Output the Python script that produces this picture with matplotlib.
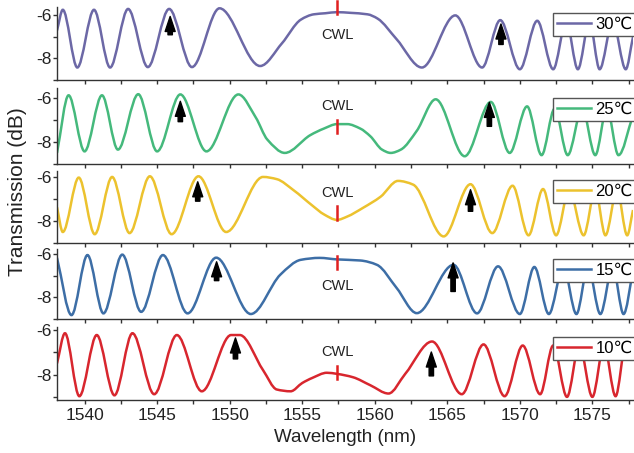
import numpy as np
import matplotlib.pyplot as plt
from matplotlib.path import Path
from matplotlib.patches import PathPatch
from matplotlib.lines import Line2D
from matplotlib.ticker import MultipleLocator

plt.rcParams['font.family'] = ['Liberation Sans', 'DejaVu Sans']

# spectra: turning points and a few shoulder points (nm, dB)
wl_30 = [1538.1, 1538.5, 1539.5, 1540.65, 1541.76, 1543.0, 1544.36, 1545.83, 1547.4,
         1549.3, 1552.1, 1553.6, 1554.9, 1555.8, 1556.6, 1557.4, 1558.3, 1559.5,
         1560.2, 1561.5, 1563.25, 1565.55, 1567.4, 1568.65, 1570.0, 1571.2, 1572.3,
         1573.2, 1574.0, 1574.8, 1575.5, 1576.4, 1577.3, 1577.8]
db_30 = [-6.7, -5.74, -8.42, -5.74, -8.42, -5.7, -8.4, -5.7, -8.4,
         -5.67, -8.35, -7.3, -6.2, -5.95, -5.9, -5.85, -5.88, -5.95,
         -6.15, -7.1, -8.42, -6.0, -8.42, -6.22, -8.5, -6.25, -8.5,
         -6.3, -8.5, -6.3, -8.5, -6.3, -8.5, -7.0]

wl_25 = [1538.1, 1538.9, 1540.0, 1541.2, 1542.3, 1543.7, 1545.0, 1546.6, 1548.4,
         1550.6, 1551.8, 1552.6, 1553.8, 1555.55, 1556.5, 1557.4, 1558.1, 1559.0,
         1559.7, 1560.5, 1561.1, 1561.8, 1562.9, 1564.2, 1566.2, 1568.0, 1569.3,
         1570.5, 1571.5, 1572.4, 1573.3, 1574.3, 1575.2, 1576.0, 1576.8, 1577.8]
db_25 = [-8.5, -5.9, -8.43, -5.9, -8.35, -5.85, -8.43, -5.86, -8.43,
         -5.86, -6.9, -7.9, -8.5, -7.7, -7.4, -7.2, -7.2, -7.4,
         -7.75, -8.35, -8.5, -8.35, -7.5, -6.08, -8.65, -6.2, -8.5,
         -6.4, -8.6, -6.5, -8.6, -6.5, -8.6, -6.5, -8.6, -6.8]

wl_20 = [1538.1, 1538.5, 1539.6, 1540.7, 1541.9, 1543.1, 1544.5, 1546.0, 1547.85,
         1549.76, 1552.3, 1553.25, 1554.4, 1555.7, 1556.5, 1557.4, 1558.1, 1559.2,
         1560.4, 1561.6, 1562.65, 1564.75, 1566.6, 1568.1, 1569.5, 1570.6, 1571.6,
         1572.5, 1573.4, 1574.4, 1575.2, 1575.9, 1576.7, 1577.4, 1577.8]
db_20 = [-7.38, -8.5, -6.03, -8.6, -6.0, -8.55, -5.97, -8.6, -5.97,
         -8.5, -6.0, -6.1, -6.6, -7.3, -7.7, -7.95, -7.8, -7.4,
         -6.9, -6.18, -6.35, -8.7, -6.33, -8.55, -6.4, -8.65, -6.55,
         -8.65, -6.6, -8.65, -6.6, -8.65, -6.6, -8.65, -7.5]

wl_15 = [1538.1, 1539.1, 1540.2, 1541.3, 1542.6, 1543.9, 1545.4, 1547.1, 1549.07,
         1551.46, 1553.5, 1554.9, 1556.2, 1557.4, 1559.0, 1560.15, 1561.5, 1562.9,
         1565.43, 1567.05, 1568.5, 1570.0, 1571.0, 1572.0, 1573.0, 1573.9, 1574.7,
         1575.55, 1576.4, 1577.15, 1577.8]
db_15 = [-6.18, -8.82, -6.05, -8.74, -6.03, -8.67, -6.05, -8.74, -6.17,
         -8.77, -6.95, -6.27, -6.18, -6.25, -6.3, -6.5, -7.56, -8.73,
         -6.5, -8.74, -6.57, -8.77, -6.6, -8.77, -6.6, -8.77, -6.6,
         -8.77, -6.6, -8.77, -6.8]

wl_10 = [1538.1, 1538.65, 1539.64, 1540.84, 1542.06, 1543.3, 1544.8, 1546.36, 1548.08,
         1550.1, 1550.7, 1552.3, 1553.25, 1554.2, 1555.0, 1555.7, 1556.7, 1557.4,
         1558.5, 1559.7, 1560.95, 1562.1, 1563.95, 1566.0, 1567.5, 1568.95, 1570.2,
         1571.4, 1572.3, 1573.25, 1574.1, 1575.0, 1575.8, 1576.6, 1577.3, 1577.8]
db_10 = [-7.5, -6.15, -8.97, -6.23, -8.93, -6.15, -8.88, -6.23, -8.75,
         -6.23, -6.23, -7.8, -8.67, -8.75, -8.38, -8.15, -7.92, -7.97,
         -8.12, -8.48, -8.85, -7.97, -6.52, -8.88, -6.65, -8.97, -6.7,
         -8.88, -6.7, -9.0, -6.7, -9.0, -6.7, -8.97, -6.7, -7.2]

labels = ['30℃', '25℃', '20℃', '15℃', '10℃']
colors = ['#6c68a6', '#45b97c', '#ecc22e', '#3d6ea6', '#d8262e']
wls = [wl_30, wl_25, wl_20, wl_15, wl_10]
dbs = [db_30, db_25, db_20, db_15, db_10]

# CWL marker: centre of red tick (dB) and label height (dB)
cwl = 1557.4
cwl_tick = [-5.65, -7.3, -7.64, -6.39, -7.9]
cwl_text = [-6.9, -6.4, -6.71, -7.5, -6.99]

# black arrows: wavelength, tip and base (dB)
arrow_wl = [(1545.9, 1568.7), (1546.6, 1567.9), (1547.8, 1566.6), (1549.1, 1565.4), (1550.4, 1563.9)]
arrow_tip = [(-6.05, -6.4), (-6.17, -6.22), (-6.22, -6.58), (-6.36, -6.41), (-6.36, -6.99)]
arrow_base = [(-6.9, -7.35), (-7.09, -7.3), (-7.1, -7.56), (-7.23, -7.73), (-7.3, -8.06)]

# panel layout in pixels and y ranges
W, H = 634, 453
tops = [7, 88, 171, 249, 327]
bottoms = [80, 164, 243, 319, 400]
ylims = [(-8.78, -5.61), (-8.87, -5.57), (-8.93, -5.73), (-8.95, -5.77), (-9.14, -5.87)]
legend_top = [13, 98, 180, 259, 337]


def smooth_path(x, y):
    x = np.asarray(x, float)
    y = np.asarray(y, float)
    n = len(x)
    m = np.zeros(n)
    for i in range(n):
        if i == 0:
            m[i] = (y[1] - y[0]) / (x[1] - x[0])
        elif i == n - 1:
            m[i] = (y[-1] - y[-2]) / (x[-1] - x[-2])
        else:
            d0 = (y[i] - y[i - 1]) / (x[i] - x[i - 1])
            d1 = (y[i + 1] - y[i]) / (x[i + 1] - x[i])
            if d0 * d1 > 0:
                m[i] = 2 * d0 * d1 / (d0 + d1)
    verts = [(x[0], y[0])]
    codes = [Path.MOVETO]
    for i in range(n - 1):
        h = x[i + 1] - x[i]
        verts += [(x[i] + h / 3, y[i] + m[i] * h / 3),
                  (x[i + 1] - h / 3, y[i + 1] - m[i + 1] * h / 3),
                  (x[i + 1], y[i + 1])]
        codes += [Path.CURVE4] * 3
    return Path(verts, codes)


fig = plt.figure(figsize=(W / 100, H / 100), dpi=100)

for k in range(5):
    rect = [57 / W, 1 - bottoms[k] / H, (633 - 57) / W, (bottoms[k] - tops[k]) / H]
    ax = fig.add_axes(rect)
    ax.add_patch(PathPatch(smooth_path(wls[k], dbs[k]), fill=False,
                           edgecolor=colors[k], lw=1.8))
    ax.set_xlim(1538.1, 1577.8)
    ax.set_ylim(*ylims[k])

    for s in ['top', 'right']:
        ax.spines[s].set_visible(False)
    for s in ['left', 'bottom']:
        ax.spines[s].set_color('#333333')
        ax.spines[s].set_linewidth(1.0)

    ax.set_xticks(range(1540, 1580, 5))
    ax.xaxis.set_minor_locator(MultipleLocator(2.5))
    ax.set_yticks([-8, -6])
    ax.set_yticks([-9, -7], minor=True)
    ax.tick_params(which='both', direction='out', length=3, width=1, color='#333333')
    ax.tick_params(axis='y', labelsize=12.5, pad=1, labelcolor='#222222')
    ax.set_yticklabels(['-8', '-6'])
    if k < 4:
        ax.tick_params(axis='x', labelbottom=False)
    else:
        ax.tick_params(axis='x', labelsize=12.5, pad=3, labelcolor='#222222')

    # CWL marker
    ax.plot([cwl, cwl], [cwl_tick[k] - 0.3, cwl_tick[k] + 0.3], color='#e02020',
            lw=1.8, clip_on=False)
    ax.text(cwl, cwl_text[k], 'CWL', ha='center', va='center', fontsize=10.5,
            color='#222222')

    # arrows
    for j in range(2):
        ax.annotate('', xy=(arrow_wl[k][j], arrow_tip[k][j]),
                    xytext=(arrow_wl[k][j], arrow_base[k][j]),
                    arrowprops=dict(arrowstyle='simple,head_width=0.8,head_length=1.2,tail_width=0.35',
                                    color='black', mutation_scale=9, shrinkA=0, shrinkB=0))

    handle = Line2D([], [], color=colors[k], lw=1.8)
    leg = ax.legend([handle], [labels[k]], loc='upper right',
                    bbox_to_anchor=(637 / W, 1 - legend_top[k] / H),
                    bbox_transform=fig.transFigure, borderaxespad=0,
                    fancybox=False, framealpha=1, edgecolor='#555555',
                    fontsize=12, handlelength=2.0, handletextpad=0.3,
                    borderpad=0.25)
    leg.get_frame().set_linewidth(1.0)

fig.text(18 / W, 1 - 192 / H, 'Transmission (dB)', rotation=90, ha='center',
         va='center', fontsize=15, color='#222222')
fig.text(345 / W, 1 - 437 / H, 'Wavelength (nm)', ha='center', va='center',
         fontsize=13.5, color='#222222')

fig.savefig('out.png', dpi=100)
